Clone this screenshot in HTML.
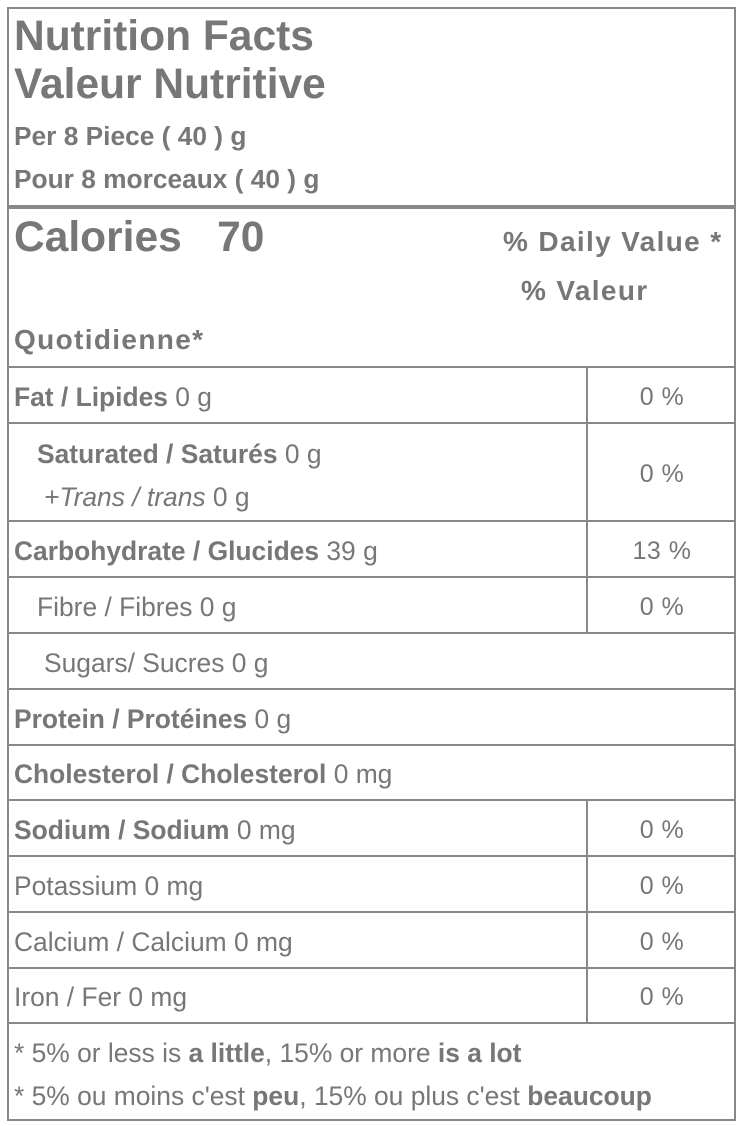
<!DOCTYPE html>
<html><head><meta charset="utf-8"><style>
body{margin:0;width:739px;height:1126px;background:#fff;position:relative;font-family:"Liberation Sans",Arial,sans-serif;color:#777;overflow:hidden}
.a{position:absolute;white-space:nowrap;line-height:1}
.h{position:absolute;background:#888;height:2px}
.v{position:absolute;background:#888;width:2px}
.row{position:absolute;left:14px;display:flex;align-items:center;font-size:26.4px;white-space:nowrap}
.p{position:absolute;left:589px;width:146px;display:flex;align-items:center;justify-content:center;font-size:25px;letter-spacing:0.5px}
b{font-weight:bold}
.sp{letter-spacing:1.35px}
</style></head><body>
<div class="h" style="left:7px;top:7px;width:729px"></div>
<div class="h" style="left:7px;top:1119px;width:729px"></div>
<div class="v" style="left:7px;top:7px;height:1114px"></div>
<div class="v" style="left:734px;top:7px;height:1114px"></div>
<div class="h" style="left:7px;top:205px;width:729px;height:4px"></div>

<div class="a" style="left:14px;top:16px;font-size:42.5px;font-weight:bold">Nutrition Facts</div>
<div class="a" style="left:14px;top:64px;font-size:42.5px;font-weight:bold">Valeur Nutritive</div>
<div class="a" style="left:14px;top:123px;font-size:26.3px;font-weight:bold">Per 8 Piece ( 40 ) g</div>
<div class="a" style="left:14px;top:166px;font-size:26.3px;font-weight:bold">Pour 8 morceaux ( 40 ) g</div>
<div class="a" style="left:14px;top:217px;font-size:42.5px;font-weight:bold">Calories &nbsp; 70</div>
<div class="a sp" style="left:503px;top:228px;font-size:28px;font-weight:bold">% Daily Value *</div>
<div class="a sp" style="left:521px;top:277px;font-size:28px;font-weight:bold">% Valeur</div>
<div class="a sp" style="left:14px;top:326px;font-size:28px;font-weight:bold">Quotidienne*</div>

<div class="h" style="left:7px;top:366px;width:729px"></div>
<div class="h" style="left:7px;top:422px;width:729px"></div>
<div class="h" style="left:7px;top:520px;width:729px"></div>
<div class="h" style="left:7px;top:576px;width:729px"></div>
<div class="h" style="left:7px;top:632px;width:729px"></div>
<div class="h" style="left:7px;top:688px;width:729px"></div>
<div class="h" style="left:7px;top:744px;width:729px"></div>
<div class="h" style="left:7px;top:799px;width:729px"></div>
<div class="h" style="left:7px;top:855px;width:729px"></div>
<div class="h" style="left:7px;top:911px;width:729px"></div>
<div class="h" style="left:7px;top:967px;width:729px"></div>
<div class="h" style="left:7px;top:1022px;width:729px"></div>
<div class="v" style="left:586px;top:366px;height:268px"></div>
<div class="v" style="left:586px;top:799px;height:225px"></div>

<div class="row" style="top:370px;height:54px"><b>Fat / Lipides</b>&nbsp;0 g</div>
<div class="p" style="top:370px;height:54px">0 %</div>
<div class="row" style="left:37px;top:436px;height:36px"><b>Saturated / Saturés</b>&nbsp;0 g</div>
<div class="row" style="left:44px;top:479px;height:36px"><i>+Trans / trans</i>&nbsp;0 g</div>
<div class="p" style="top:426px;height:96px">0 %</div>
<div class="row" style="top:524px;height:54px"><b>Carbohydrate / Glucides</b>&nbsp;39 g</div>
<div class="p" style="top:524px;height:54px">13 %</div>
<div class="row" style="left:37px;top:580px;height:54px">Fibre / Fibres 0 g</div>
<div class="p" style="top:580px;height:54px">0 %</div>
<div class="row" style="left:44px;top:636px;height:54px">Sugars/ Sucres 0 g</div>
<div class="row" style="top:692px;height:54px"><b>Protein / Protéines</b>&nbsp;0 g</div>
<div class="row" style="top:748px;height:53px"><b>Cholesterol / Cholesterol</b>&nbsp;0 mg</div>
<div class="row" style="top:803px;height:54px"><b>Sodium / Sodium</b>&nbsp;0 mg</div>
<div class="p" style="top:803px;height:54px">0 %</div>
<div class="row" style="top:859px;height:54px">Potassium 0 mg</div>
<div class="p" style="top:859px;height:54px">0 %</div>
<div class="row" style="top:915px;height:54px">Calcium / Calcium 0 mg</div>
<div class="p" style="top:915px;height:54px">0 %</div>
<div class="row" style="top:971px;height:53px">Iron / Fer 0 mg</div>
<div class="p" style="top:971px;height:53px">0 %</div>

<div class="row" style="top:1035px;height:36px">*&nbsp;5% or less is&nbsp;<b>a little</b>, 15% or more&nbsp;<b>is a lot</b></div>
<div class="row" style="top:1078px;height:36px">*&nbsp;5% ou moins c'est&nbsp;<b>peu</b>, 15% ou plus c'est&nbsp;<b>beaucoup</b></div>
</body></html>
